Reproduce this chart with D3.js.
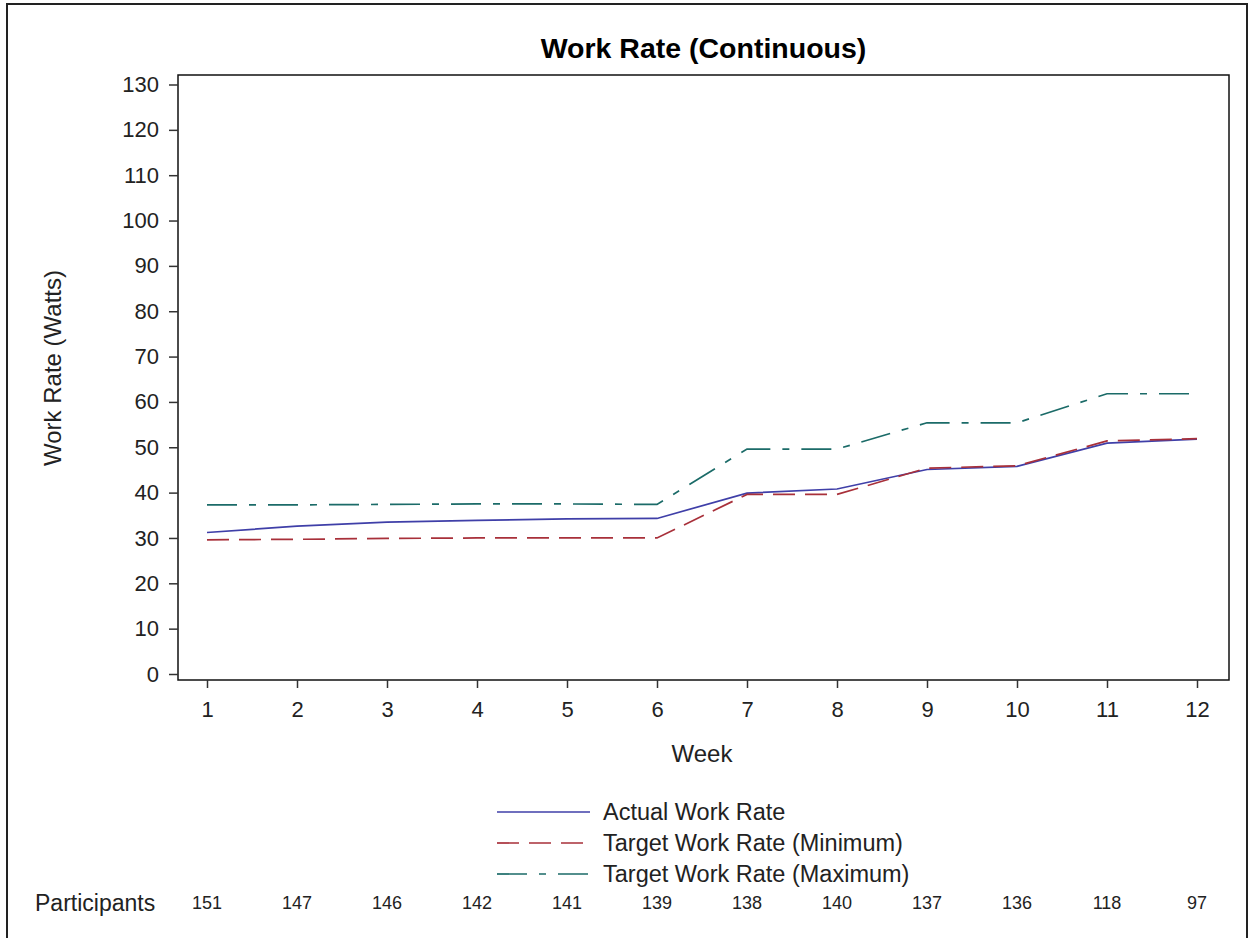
<!DOCTYPE html>
<html>
<head>
<meta charset="utf-8">
<script src="https://cdn.jsdelivr.net/npm/d3@7"></script>
<style>
  body { margin: 0; background: #fff; }
  svg { display: block; font-family: "Liberation Sans", Arial, sans-serif; }
</style>
</head>
<body>
<div id="chart"></div>
<script>
// data
const weeks = [1, 2, 3, 4, 5, 6, 7, 8, 9, 10, 11, 12]
const actualRate = [31.2, 32.6, 33.5, 33.9, 34.2, 34.3, 39.9, 40.8, 45.1, 45.8, 50.9, 51.8]
const targetMin = [29.6, 29.7, 29.9, 30.0, 30.0, 30.0, 39.6, 39.6, 45.4, 45.9, 51.4, 51.9]
const targetMax = [37.3, 37.3, 37.4, 37.5, 37.5, 37.4, 49.6, 49.6, 55.4, 55.4, 61.8, 61.8]
const participants = [151, 147, 146, 142, 141, 139, 138, 140, 137, 136, 118, 97]
const yTicks = [0, 10, 20, 30, 40, 50, 60, 70, 80, 90, 100, 110, 120, 130]

const series = [
  { name: "Actual Work Rate", values: actualRate, color: "#3f3fa8", dash: null },
  { name: "Target Work Rate (Minimum)", values: targetMin, color: "#a8303a", dash: "22,10" },
  { name: "Target Work Rate (Maximum)", values: targetMax, color: "#1b6b68", dash: "30,12,7,12" }
]

// dimensions
const width = 1251, height = 938
const plot = { left: 178, right: 1229, top: 75, bottom: 680 }

const svg = d3.select("#chart").append("svg")
  .attr("width", width)
  .attr("height", height)

// outer frame (bottom edge runs off the picture)
svg.append("path")
  .attr("d", `M7,${height + 5} V4 H1247 V${height + 5}`)
  .attr("fill", "none")
  .attr("stroke", "#222")
  .attr("stroke-width", 2)

// scales
const xScale = d3.scaleLinear()
  .domain([1, 12])
  .range([207, 1197])

const yScale = d3.scaleLinear()
  .domain([0, 130])
  .range([674, 84.5])

// title
svg.append("text")
  .attr("x", (plot.left + plot.right) / 2)
  .attr("y", 48)
  .attr("text-anchor", "middle")
  .attr("dominant-baseline", "central")
  .style("font-size", "28.5px")
  .style("font-weight", "bold")
  .text("Work Rate (Continuous)")

// plot frame
svg.append("rect")
  .attr("x", plot.left)
  .attr("y", plot.top)
  .attr("width", plot.right - plot.left)
  .attr("height", plot.bottom - plot.top)
  .attr("fill", "none")
  .attr("stroke", "#111")
  .attr("stroke-width", 1.5)

// lines
const line = d3.line()
  .x((d, i) => xScale(weeks[i]))
  .y(d => yScale(d))

svg.selectAll(".series")
  .data(series).join("path")
    .attr("class", "series")
    .attr("d", d => line(d.values))
    .attr("fill", "none")
    .attr("stroke", d => d.color)
    .attr("stroke-width", 1.7)
    .attr("stroke-dasharray", d => d.dash)

// axes
const yAxis = svg.append("g")
  .attr("transform", `translate(${plot.left},0)`)
  .call(d3.axisLeft(yScale).tickValues(yTicks).tickSize(9).tickPadding(10).tickSizeOuter(0))
yAxis.select(".domain").remove()
yAxis.selectAll("text").style("font-size", "22px").attr("fill", "#222")
yAxis.selectAll("line").attr("stroke", "#333").attr("stroke-width", 1.5)

const xAxis = svg.append("g")
  .attr("transform", `translate(0,${plot.bottom})`)
  .call(d3.axisBottom(xScale).tickValues(weeks).tickFormat(d3.format("d")).tickSize(8).tickPadding(13).tickSizeOuter(0))
xAxis.select(".domain").remove()
xAxis.selectAll("text").style("font-size", "22px").attr("fill", "#222")
xAxis.selectAll("line").attr("stroke", "#333").attr("stroke-width", 1.5)

// axis labels
svg.append("text")
  .attr("x", xScale(6.5))
  .attr("y", 753)
  .attr("text-anchor", "middle")
  .attr("dominant-baseline", "central")
  .style("font-size", "24px")
  .attr("fill", "#222")
  .text("Week")

svg.append("text")
  .attr("transform", "translate(52,368) rotate(-90)")
  .attr("text-anchor", "middle")
  .attr("dominant-baseline", "central")
  .style("font-size", "24px")
  .attr("fill", "#222")
  .text("Work Rate (Watts)")

// legend
const legend = svg.append("g")
  .attr("transform", "translate(497,812)")

legend.selectAll("line")
  .data(series).join("line")
    .attr("x1", 0)
    .attr("x2", 93)
    .attr("y1", (d, i) => i * 31)
    .attr("y2", (d, i) => i * 31)
    .attr("stroke", d => d.color)
    .attr("stroke-width", 1.7)
    .attr("stroke-dasharray", d => d.dash)

legend.selectAll("text")
  .data(series).join("text")
    .attr("x", 106)
    .attr("y", (d, i) => i * 31)
    .attr("dominant-baseline", "central")
    .style("font-size", "23.5px")
    .attr("fill", "#222")
    .text(d => d.name)

// participants row
svg.append("text")
  .attr("x", 35)
  .attr("y", 903)
  .attr("dominant-baseline", "central")
  .style("font-size", "23px")
  .attr("fill", "#222")
  .text("Participants")

svg.selectAll(".count")
  .data(participants).join("text")
    .attr("class", "count")
    .attr("x", (d, i) => xScale(weeks[i]))
    .attr("y", 903)
    .attr("text-anchor", "middle")
    .attr("dominant-baseline", "central")
    .style("font-size", "18px")
    .attr("fill", "#222")
    .text(d => d)
</script>
</body>
</html>
